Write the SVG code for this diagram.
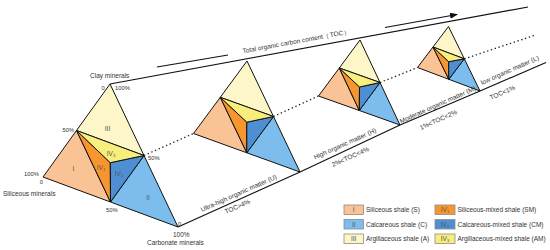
<svg xmlns="http://www.w3.org/2000/svg" width="550" height="250" viewBox="0 0 550 250">
<defs>
<marker id="ah" markerUnits="userSpaceOnUse" markerWidth="8" markerHeight="6" refX="7" refY="3" orient="auto">
<path d="M0,0 L8,3 L0,6 z" fill="#111"/>
</marker>
</defs>
<style>
.e{stroke:#111;stroke-width:1;stroke-linejoin:round}
.pe{fill:#FAC396}.or{fill:#F7962F}.ly{fill:#FCF6C8}.ye{fill:#F8EE7C}.lb{fill:#7DBDED}.db{fill:#4D8FD2}
.ln{stroke:#111;stroke-width:1.2;fill:none}
.dot{stroke:#222;stroke-width:1.3;fill:none;stroke-dasharray:1.4 2.6}
.t{font-family:'Liberation Sans',Arial,sans-serif;fill:#333;font-size:6.5px}
.n{font-size:5.8px}
.r{font-family:'Liberation Sans',Arial,sans-serif;fill:#555;font-size:6.5px;text-anchor:middle}
.lg{stroke:#8c8c8c;stroke-width:0.8}
</style>
<rect width="550" height="250" fill="#fff"/>

<g id="connectors">
<line class="ln" x1="110" y1="84" x2="528" y2="7"/>
<line class="ln" x1="157" y1="67" x2="228" y2="55"/>
<line class="ln" x1="385" y1="27.5" x2="457" y2="14.5" marker-end="url(#ah)"/>
<polyline class="ln" points="178,227 300,172 400,125 480,91 546,62.5"/>
<line class="dot" x1="144" y1="155.5" x2="193.5" y2="133.5"/>
<line class="dot" x1="273.5" y1="116.5" x2="318.5" y2="96"/>
<line class="dot" x1="380" y1="82.5" x2="417.5" y2="67.5"/>
<line class="dot" x1="464.3" y1="58.8" x2="534" y2="35.5"/>
</g>

<g id="triangle-main">
<polygon class="e pe" points="43,177 76.5,130.5 110.5,202"/>
<polygon class="e ly" points="110,84 76.5,130.5 144,155.5"/>
<polygon class="e lb" points="144,155.5 178,227 110.5,202"/>
<polygon class="e or" points="76.5,130.5 110.3,162.7 110.5,202"/>
<polygon class="e db" points="110.3,162.7 144,155.5 110.5,202"/>
<polygon class="e ye" points="76.5,130.5 144,155.5 110.3,162.7"/>
<text class="r" x="107.5" y="131">III</text>
<text class="r" x="73.5" y="170.5">I</text>
<text class="r" x="148" y="200">II</text>
<text class="r" x="111" y="156">IV<tspan font-size="4.2" dy="1.2">3</tspan></text>
<text class="r" x="101" y="169.5">IV<tspan font-size="4.2" dy="1.2">1</tspan></text>
<text class="r" x="119" y="176">IV<tspan font-size="4.2" dy="1.2">2</tspan></text>
<text class="t" x="90" y="77.5">Clay minerals</text>
<text class="t n" x="101.5" y="90">0</text>
<text class="t n" x="115" y="90">100%</text>
<text class="t n" x="62.5" y="131.5">50%</text>
<text class="t n" x="148" y="159.5">50%</text>
<text class="t n" x="24" y="176">100%</text>
<text class="t n" x="39.8" y="184">0</text>
<text class="t" x="3" y="196">Siliceous minerals</text>
<text class="t n" x="106" y="211.5">50%</text>
<text class="t n" x="178" y="225.5">0</text>
<text class="t" x="173" y="237" font-size="7.2">100%</text>
<text class="t" x="147" y="245">Carbonate minerals</text>
</g>

<g id="triangle-high">
<polygon class="e pe" points="193.5,133.5 220.3,97.3 246.8,152.8"/>
<polygon class="e ly" points="247,61 220.3,97.3 273.5,116.5"/>
<polygon class="e lb" points="273.5,116.5 300,172 246.8,152.8"/>
<polygon class="e or" points="220.3,97.3 246.8,122.2 246.8,152.8"/>
<polygon class="e db" points="246.8,122.2 273.5,116.5 246.8,152.8"/>
<polygon class="e ye" points="220.3,97.3 273.5,116.5 246.8,122.2"/>
</g>

<g id="triangle-moderate">
<polygon class="e pe" points="318.5,96 339.3,68 359.3,110.5"/>
<polygon class="e ly" points="360,40 339.3,68 380,82.5"/>
<polygon class="e lb" points="380,82.5 400,125 359.3,110.5"/>
<polygon class="e or" points="339.3,68 359.5,87 359.3,110.5"/>
<polygon class="e db" points="359.5,87 380,82.5 359.3,110.5"/>
<polygon class="e ye" points="339.3,68 380,82.5 359.5,87"/>
</g>

<g id="triangle-low">
<polygon class="e pe" points="417.5,67.5 433,47 448.8,79.3"/>
<polygon class="e ly" points="448.5,26.5 433,47 464.3,58.8"/>
<polygon class="e lb" points="464.3,58.8 480,91 448.8,79.3"/>
<polygon class="e or" points="433,47 448.7,61.7 448.8,79.3"/>
<polygon class="e db" points="448.7,61.7 464.3,58.8 448.8,79.3"/>
<polygon class="e ye" points="433,47 464.3,58.8 448.7,61.7"/>
</g>

<g id="labels">
<text class="t" font-size="7" font-family="'Liberation Sans','Noto Sans CJK SC',sans-serif" transform="translate(243,53.3) rotate(-10.4)">Total organic carbon content（TOC）</text>
<text class="t" transform="translate(202,212) rotate(-24.1)">Ultra-high organic matter (U)</text>
<text class="t" transform="translate(226,214) rotate(-24.1)">TOC&gt;4%</text>
<text class="t" transform="translate(315,159.5) rotate(-24.1)">High organic matter (H)</text>
<text class="t" transform="translate(333,167) rotate(-24.1)">2%&lt;TOC&lt;4%</text>
<text class="t" transform="translate(401,123.5) rotate(-24.1)">Moderate organic matter (M)</text>
<text class="t" transform="translate(421,130) rotate(-24.1)">1%&lt;TOC&lt;2%</text>
<text class="t" transform="translate(482,85) rotate(-24.1)">low organic matter (L)</text>
<text class="t" transform="translate(491,100) rotate(-24.1)">TOC&lt;1%</text>
</g>

<g id="legend">
<rect class="lg pe" x="344" y="205" width="19.5" height="9.5"/>
<text class="r" x="353.7" y="212.2">I</text>
<text class="t" x="366" y="212.2">Siliceous shale (S)</text>
<rect class="lg lb" x="344" y="219.5" width="19.5" height="9.5"/>
<text class="r" x="353.7" y="226.7">II</text>
<text class="t" x="366" y="226.7">Calcareous shale (C)</text>
<rect class="lg ly" x="344" y="234" width="19.5" height="9.5"/>
<text class="r" x="353.7" y="241.2">III</text>
<text class="t" x="366" y="241.2">Argillaceous shale (A)</text>
<rect class="lg or" x="435" y="205" width="20" height="9.5"/>
<text class="r" x="445" y="212.2">IV<tspan font-size="4.2" dy="1">1</tspan></text>
<text class="t" x="457.5" y="212.2">Siliceous-mixed shale (SM)</text>
<rect class="lg db" x="435" y="219.5" width="20" height="9.5"/>
<text class="r" x="445" y="226.7">IV<tspan font-size="4.2" dy="1">2</tspan></text>
<text class="t" x="457.5" y="226.7">Calcareous-mixed shale (CM)</text>
<rect class="lg ye" x="435" y="234" width="20" height="9.5"/>
<text class="r" x="445" y="241.2">IV<tspan font-size="4.2" dy="1">3</tspan></text>
<text class="t" x="457.5" y="241.2">Argillaceous-mixed shale (AM)</text>
</g>
</svg>
